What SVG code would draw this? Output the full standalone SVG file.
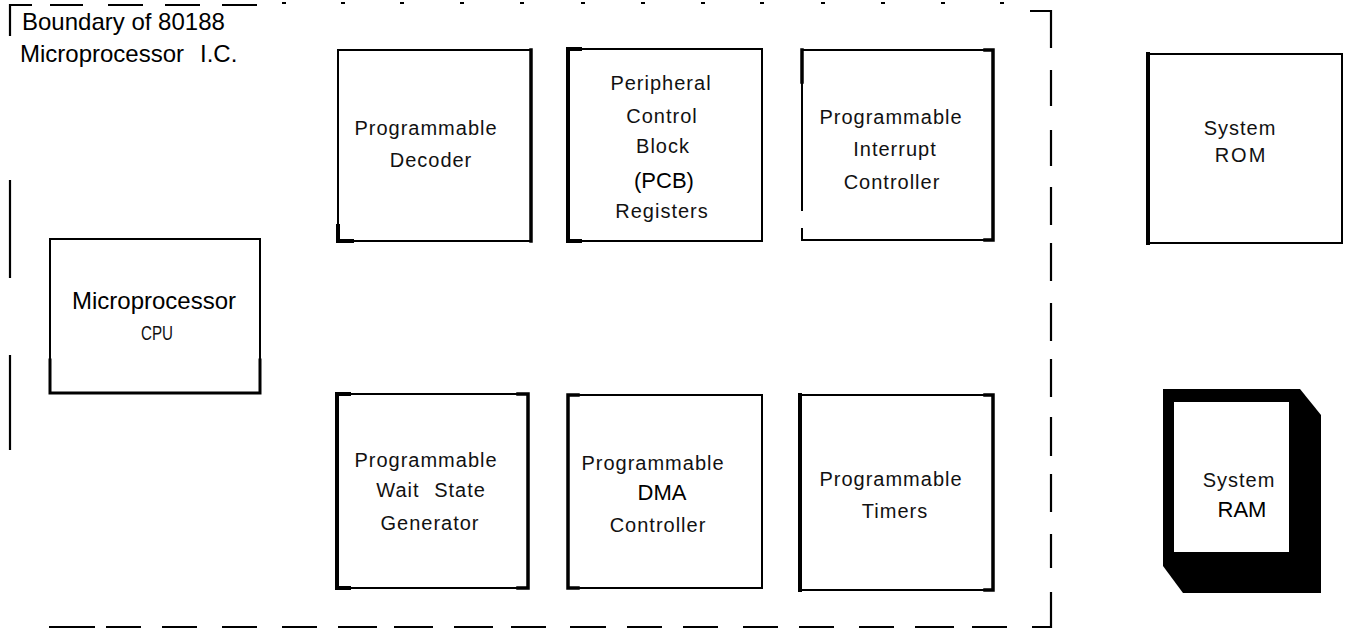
<svg xmlns="http://www.w3.org/2000/svg" width="1345" height="631" viewBox="0 0 1345 631">
<style>
.bnd { fill: none; stroke: #000; stroke-width: 2.2; }
.tick { fill: #000; }
.box { fill: #fff; stroke: #000; stroke-width: 2; }
.edge { fill: none; stroke: #000; stroke-linecap: square; }
.lbl { font-family: "Liberation Sans", Arial, sans-serif; font-size: 20px; letter-spacing: 1px; text-anchor: middle; fill: #111; }
.reg { font-family: "Liberation Sans", Arial, sans-serif; font-size: 22px; text-anchor: middle; fill: #000; }
.cap { font-family: "Liberation Sans", Arial, sans-serif; font-size: 24px; fill: #000; }
</style>
<rect width="1345" height="631" fill="#fff"/>

<g id="boundary">
  <path class="bnd" d="M10,36 V5 H32"/>
  <path class="bnd" d="M50,5 H83 M108,5 H143 M165,5 H200 M222,5 H257"/>
  <g class="tick">
    <rect x="282" y="2" width="4" height="2"/><rect x="341" y="2" width="4" height="2"/>
    <rect x="400" y="2" width="4" height="2"/><rect x="460" y="2" width="4" height="2"/>
    <rect x="520" y="2" width="4" height="2"/><rect x="581" y="2" width="4" height="2"/>
    <rect x="641" y="2" width="4" height="2"/><rect x="701" y="2" width="4" height="2"/>
    <rect x="760" y="2" width="4" height="2"/><rect x="821" y="2" width="4" height="2"/>
    <rect x="881" y="2" width="4" height="2"/><rect x="941" y="2" width="4" height="2"/>
    <rect x="1000" y="2" width="4" height="2"/>
  </g>
  <path class="bnd" d="M1030,11 H1051 V48"/>
  <path class="bnd" d="M1051,70 V106 M1051,130 V166 M1051,187 V225 M1051,243 V281 M1051,303 V341 M1051,359 V397 M1051,417 V456 M1051,474 V512 M1051,534 V568"/>
  <path class="bnd" d="M1051,592 V627 H1032"/>
  <path class="bnd" d="M49,627 H95 M106,627 H141 M162,627 H197 M222,627 H257 M282,627 H317 M338,627 H377 M394,627 H433 M454,627 H493 M511,627 H546 M570,627 H606 M627,627 H662 M683,627 H718 M743,627 H778 M799,627 H834 M859,627 H894 M915,627 H954 M972,627 H1007"/>
  <path class="bnd" d="M10,180 V278 M10,355 V450"/>
  <text class="cap" x="22" y="30">Boundary of 80188</text>
  <text class="cap" x="20" y="62">Microprocessor</text>
  <text class="cap" x="200" y="62">I.C.</text>
</g>

<g id="connectors"></g>

<g id="decoder">
  <rect class="box" x="338" y="50" width="193" height="191"/>
  <path class="edge" d="M531,50 V241" stroke-width="3.5"/>
  <path class="edge" d="M338,226 V241 H352" stroke-width="4"/>
  <text class="lbl" x="426" y="135">Programmable</text>
  <text class="lbl" x="431" y="167">Decoder</text>
</g>

<g id="pcb">
  <rect class="box" x="568" y="49" width="194" height="192"/>
  <path class="edge" d="M580,49 H568 V241 H580" stroke-width="4"/>
  <text class="lbl" x="661" y="90">Peripheral</text>
  <text class="lbl" x="662" y="123">Control</text>
  <text class="lbl" x="663" y="153">Block</text>
  <text class="reg" x="664" y="188">(PCB)</text>
  <text class="lbl" x="662" y="218">Registers</text>
</g>

<g id="interrupt">
  <rect x="802" y="50" width="191" height="190" fill="#fff"/>
  <path class="edge" d="M802,210 V50 H993 V240 H802 V229" stroke-width="2"/>
  <path class="edge" d="M802,50 V82" stroke-width="3.5"/>
  <path class="edge" d="M985,50 H993 V240 H985" stroke-width="3.5"/>
  <text class="lbl" x="891" y="124">Programmable</text>
  <text class="lbl" x="895" y="156">Interrupt</text>
  <text class="lbl" x="892" y="189">Controller</text>
</g>

<g id="rom">
  <rect class="box" x="1148" y="54" width="194" height="189"/>
  <path class="edge" d="M1148,54 V243" stroke-width="4"/>
  <text class="lbl" x="1240" y="135">System</text>
  <text class="lbl" x="1241" y="162" style="letter-spacing:2px">ROM</text>
</g>

<g id="cpu">
  <rect class="box" x="50" y="239" width="210" height="154"/>
  <path class="edge" d="M50,360 V393 H260 V360" stroke-width="3"/>
  <text class="cap" x="154" y="309" text-anchor="middle">Microprocessor</text>
  <text x="157" y="340" text-anchor="middle" font-family="Liberation Sans, Arial, sans-serif" font-size="21" textLength="32" lengthAdjust="spacingAndGlyphs" fill="#111">CPU</text>
</g>

<g id="waitstate">
  <rect class="box" x="337" y="394" width="191" height="194"/>
  <path class="edge" d="M349,394 H337 V588 H349" stroke-width="4"/>
  <path class="edge" d="M518,394 H528 V588 H518" stroke-width="3.5"/>
  <text class="lbl" x="426" y="467">Programmable</text>
  <text class="lbl" x="398" y="497">Wait</text>
  <text class="lbl" x="460" y="497">State</text>
  <text class="lbl" x="430" y="530">Generator</text>
</g>

<g id="dma">
  <rect class="box" x="568" y="395" width="194" height="193"/>
  <path class="edge" d="M578,395 H568 V588 H578" stroke-width="3.5"/>
  <text class="lbl" x="653" y="470">Programmable</text>
  <text class="reg" x="662" y="500">DMA</text>
  <text class="lbl" x="658" y="532">Controller</text>
</g>

<g id="timers">
  <rect class="box" x="800" y="395" width="193" height="195"/>
  <path class="edge" d="M800,395 V590" stroke-width="4"/>
  <path class="edge" d="M985,395 H993 V590 H985" stroke-width="3.5"/>
  <text class="lbl" x="891" y="486">Programmable</text>
  <text class="lbl" x="895" y="518">Timers</text>
</g>

<g id="ram">
  <polygon points="1163,389 1300,389 1321,415 1321,593 1183,593 1163,566" fill="#000"/>
  <rect x="1174" y="402" width="115" height="150" fill="#fff"/>
  <text class="lbl" x="1239" y="487">System</text>
  <text class="reg" x="1242" y="517">RAM</text>
</g>
</svg>
